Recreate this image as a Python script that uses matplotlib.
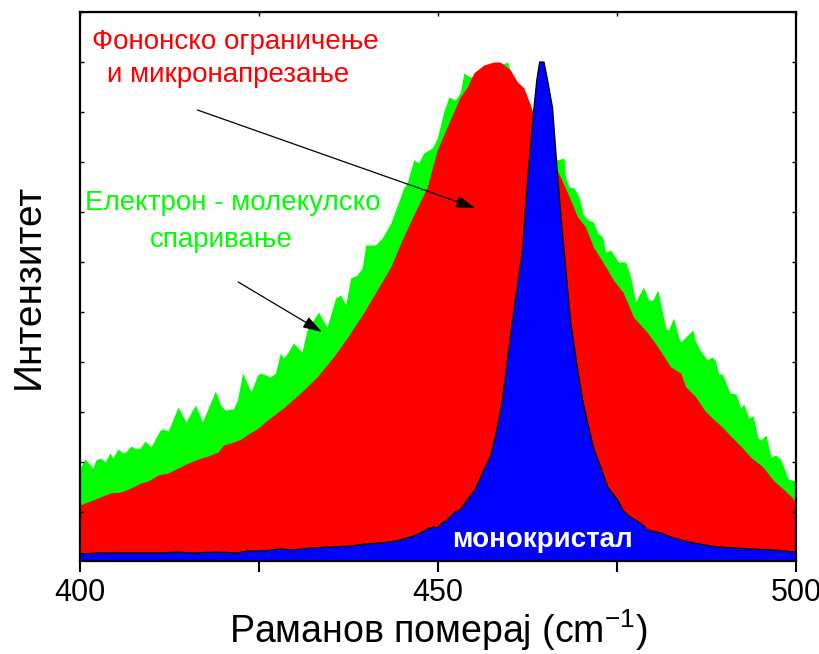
import numpy as np
import matplotlib
matplotlib.use('Agg')
from matplotlib import pyplot as plt

# Raman shift (cm^-1) and intensity (arb. units)
green_x = [400.0, 400.7, 401.8, 402.2, 402.9, 403.5, 404.2, 404.6, 405.3, 406.0, 406.4, 407.1, 407.8, 408.4,
           409.1, 409.9, 411.2, 411.6, 412.3, 413.7, 414.8, 416.1, 417.1, 418.9, 419.7, 420.3, 421.4, 422.0,
           422.7, 423.9, 424.8, 425.2, 426.6, 427.3, 428.0, 428.4, 429.0, 429.8, 431.0, 431.7, 433.3, 434.5,
           435.7, 436.4, 437.1, 437.8, 438.7, 439.4, 439.9, 441.3, 442.2, 443.4, 444.5, 445.2, 445.7, 446.6,
           447.3, 448.0, 449.2, 449.9, 450.8, 451.5, 452.4, 453.1, 453.6, 454.5, 455.5, 457.3, 458.7, 459.7,
           460.8, 462.2, 463.6, 465.5, 466.7, 467.6, 467.8, 468.3, 469.0, 469.7, 470.3, 471.0, 471.7, 472.3,
           473.0, 473.4, 474.1, 475.2, 476.2, 476.9, 477.6, 478.7, 479.4, 480.0, 480.7, 481.8, 482.2, 482.9,
           483.6, 483.9, 485.6, 485.9, 486.6, 487.6, 488.3, 488.7, 489.2, 489.7, 490.8, 491.6, 492.3, 492.7,
           493.4, 494.0, 494.7, 495.1, 495.8, 496.5, 497.2, 497.9, 498.9, 499.9, 500.0]
green_y = [93, 102, 93, 101, 103, 99, 108, 103, 112, 108, 109, 115, 112, 113,
           120, 114, 131, 132, 130, 154, 139, 156, 139, 170, 155, 151, 152, 161,
           188, 169, 186, 188, 184, 188, 208, 203, 208, 218, 209, 231, 249, 234,
           263, 266, 256, 283, 286, 293, 316, 316, 323, 338, 359, 373, 378, 401,
           398, 408, 413, 423, 449, 464, 461, 468, 488, 484, 486, 493, 496, 499,
           476, 468, 443, 416, 401, 403, 384, 374, 373, 364, 346, 341, 339, 328,
           324, 309, 311, 299, 299, 284, 259, 274, 261, 261, 271, 233, 231, 243,
           224, 219, 231, 221, 211, 201, 204, 201, 187, 187, 168, 167, 153, 157,
           143, 145, 123, 121, 126, 104, 106, 101, 82, 80, 78]

red_x = [400.0, 401.1, 402.5, 404.2, 405.7, 407.1, 408.5, 409.5, 410.9, 412.3, 413.7, 415.1, 416.5, 417.9,
         419.3, 420.0, 421.1, 422.5, 423.5, 424.9, 426.2, 428.4, 430.8, 433.1, 435.4, 437.3, 439.6, 441.5,
         443.4, 444.8, 446.6, 448.5, 449.9, 451.7, 453.1, 454.1, 455.0, 456.4, 457.8, 458.7, 460.1, 461.1,
         462.0, 462.9, 463.9, 465.0, 466.2, 467.1, 468.1, 469.5, 470.6, 471.7, 473.1, 474.5, 475.9, 477.3,
         479.3, 480.7, 482.5, 483.9, 484.6, 485.9, 487.3, 488.3, 489.7, 491.0, 492.4, 493.8, 495.4, 496.8,
         497.9, 499.4, 500.0]
red_y = [56, 59, 63, 68, 69, 73, 78, 80, 86, 88, 93, 98, 102, 105,
         109, 116, 118, 122, 127, 133, 141, 153, 168, 184, 204, 223, 248, 271,
         294, 318, 346, 374, 411, 441, 464, 474, 488, 496, 499, 499, 491, 479,
         473, 456, 431, 411, 396, 384, 368, 344, 334, 314, 298, 281, 268, 244,
         228, 214, 194, 188, 174, 165, 150, 143, 134, 124, 114, 103, 94, 81,
         74, 64, 58]

blue_x = [400.0, 402.8, 406.6, 411.2, 413.6, 415.8, 419.2, 422.0, 423.4, 425.2, 428.0, 429.8, 432.2, 435.0,
          437.8, 439.9, 442.0, 444.1, 446.2, 447.6, 448.5, 449.4, 449.9, 450.6, 451.3, 452.4, 453.1, 454.3,
          455.2, 456.4, 457.3, 458.0, 458.7, 459.0, 459.7, 460.4, 461.1, 461.8, 462.5, 463.4, 463.8, 464.2,
          464.8, 465.3, 466.0, 466.7, 467.1, 467.6, 468.5, 469.4, 470.2, 470.9, 471.7, 472.7, 473.7, 475.1,
          475.8, 476.5, 477.3, 478.3, 479.3, 481.1, 482.9, 485.7, 489.1, 493.7, 496.9, 500.0]
blue_y = [7, 8, 8, 8, 9, 8, 9, 8, 10, 10, 12, 11, 13, 14,
          15, 17, 18, 20, 24, 28, 32, 34, 33, 38, 41, 49, 51, 63,
          71, 91, 104, 124, 148, 161, 201, 241, 276, 311, 381, 453, 481, 499,
          499, 481, 453, 386, 351, 311, 241, 196, 161, 138, 114, 94, 74, 61,
          51, 46, 42, 38, 31, 28, 23, 18, 14, 12, 11, 9]

plt.rcParams['font.family'] = ['Liberation Sans', 'DejaVu Sans']
plt.rcParams['mathtext.fontset'] = 'custom'
plt.rcParams['mathtext.rm'] = 'Liberation Sans'

fig = plt.figure(figsize=(8.2, 6.54), dpi=100)
ax = fig.add_axes([80/820, 93/654, 716/820, 549/654])

ax.fill_between(green_x, green_y, 0, color='#00ff00', lw=0)
ax.fill_between(red_x, red_y, 0, color='#ff0000', lw=0)
ax.fill_between(blue_x, blue_y, 0, facecolor='#0000ff', edgecolor='none')
ax.plot(blue_x, blue_y, color='black', lw=0.9)

ax.set_xlim(400, 500)
ax.set_ylim(0, 549)
ax.set_xticks([400, 425, 450, 475, 500])
ax.set_xticklabels(['400', '', '450', '', '500'])
ax.set_yticks(np.arange(49, 550, 50))
ax.tick_params(axis='x', direction='out', length=8, width=1.5, labelsize=22, pad=4)
ax.tick_params(axis='y', direction='in', length=3, width=1, left=True, right=True, labelleft=False)
for s in ax.spines.values():
    s.set_linewidth(1.6)

top = ax.secondary_xaxis('top')
top.set_xticks([400, 425, 450, 475, 500])
top.tick_params(direction='in', length=3, width=1, labeltop=False)

ax.set_xlabel('Раманов померај (cm$^{\\mathregular{-1}}$)', fontsize=27, labelpad=0)
ax.set_ylabel('Интензитет', fontsize=28, labelpad=24)

reg = ['Liberation Sans', 'DejaVu Sans']
ax.text(421.7, 519, 'Фононско ограничење', color='red', fontsize=20, ha='center', va='center', family=reg)
ax.text(420.7, 486, 'и микронапрезање', color='red', fontsize=20, ha='center', va='center', family=reg)
ax.text(421.4, 358, 'Електрон - молекулско', color='#00ff00', fontsize=20, ha='center', va='center', family=reg)
ax.text(419.7, 321, 'спаривање', color='#00ff00', fontsize=20, ha='center', va='center', family=reg)
ax.text(464.6, 21, 'монокристал', color='white', fontsize=20, fontweight='bold', ha='center', va='center', family=reg)

arrow = dict(arrowstyle='-|>,head_length=0.9,head_width=0.28', color='black', lw=0.9, mutation_scale=13, shrinkA=0, shrinkB=0)
ax.annotate('', xy=(455.2, 353), xytext=(416.4, 451), arrowprops=arrow)
ax.annotate('', xy=(433.8, 229), xytext=(422.1, 279), arrowprops=arrow)

fig.savefig('out.png', dpi=100)
